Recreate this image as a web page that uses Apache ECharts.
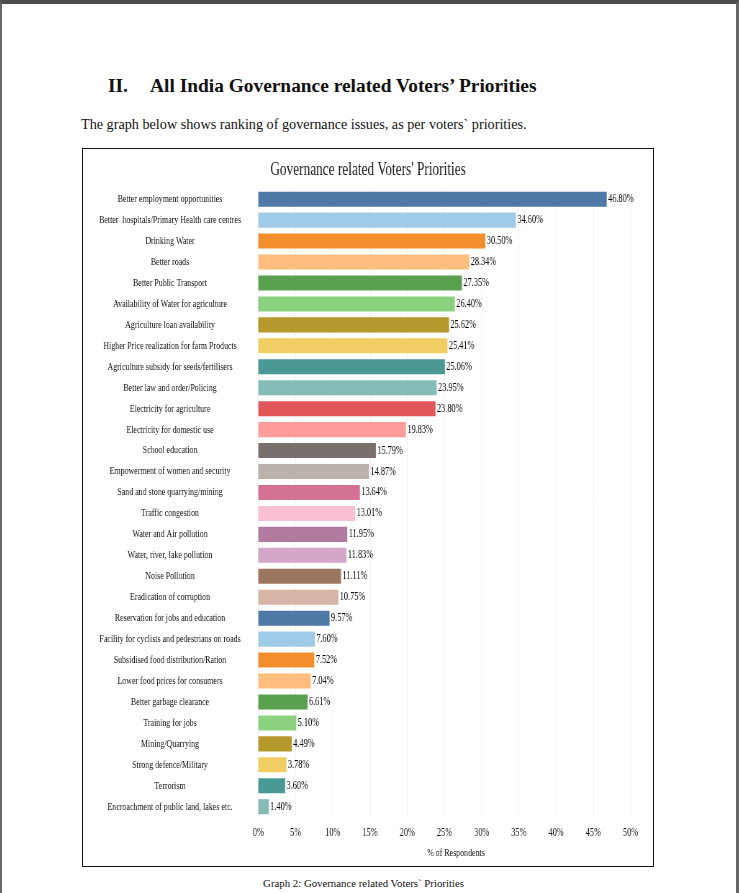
<!DOCTYPE html>
<html>
<head>
<meta charset="utf-8">
<script src="https://cdn.jsdelivr.net/npm/echarts@6.0.0/dist/echarts.min.js"></script>
<style>
  html, body { margin: 0; padding: 0; background: #fff; }
  body { width: 739px; height: 893px; position: relative; overflow: hidden; font-family: "Liberation Serif", "Times New Roman", serif; color: #111; }
  .frame { position: absolute; left: 0; top: 0; width: 739px; height: 893px; box-sizing: border-box;
           border-top: 4px solid #4d4d4d; border-left: 2px solid #666; border-right: 3px solid #666; }
  .txt { position: absolute; white-space: pre; }
  #box { position: absolute; left: 82px; top: 148px; width: 572px; height: 719px; box-sizing: border-box; border: 1px solid #111; }
  #chart { position: absolute; left: 83px; top: 149px; width: 792px; height: 717px; transform: scaleX(0.7197); transform-origin: 0 0; }
</style>
</head>
<body>
<div class="frame"></div>
<div class="txt" style="left:108px; top:76px; font-size:19.4px; line-height:19.4px; font-weight:bold;">II.</div>
<div class="txt" style="left:150px; top:76px; font-size:19.4px; line-height:19.4px; font-weight:bold;">All India Governance related Voters’ Priorities</div>
<div class="txt" style="left:81px; top:117px; font-size:14.2px; line-height:14.2px;">The graph below shows ranking of governance issues, as per voters` priorities.</div>
<div id="box"></div>
<div id="chart"></div>
<div class="txt" style="left:0; width:727px; text-align:center; top:878px; font-size:10.8px; line-height:10.8px;">Graph 2: Governance related Voters` Priorities</div>
<script>
const categories = [
  "Better employment opportunities",
  "Better  hospitals/Primary Health care centres",
  "Drinking Water",
  "Better roads",
  "Better Public Transport",
  "Availability of Water for agriculture",
  "Agriculture loan availability",
  "Higher Price realization for farm Products",
  "Agriculture subsidy for seeds/fertilisers",
  "Better law and order/Policing",
  "Electricity for agriculture",
  "Electricity for domestic use",
  "School education",
  "Empowerment of women and security",
  "Sand and stone quarrying/mining",
  "Traffic congestion",
  "Water and Air pollution",
  "Water, river, lake pollution",
  "Noise Pollution",
  "Eradication of corruption",
  "Reservation for jobs and education",
  "Facility for cyclists and pedestrians on roads",
  "Subsidised food distribution/Ration",
  "Lower food prices for consumers",
  "Better garbage clearance",
  "Training for jobs",
  "Mining/Quarrying",
  "Strong defence/Military",
  "Terrorism",
  "Encroachment of public land, lakes etc."
];
const values = [46.80, 34.60, 30.50, 28.34, 27.35, 26.40, 25.62, 25.41, 25.06, 23.95,
                23.80, 19.83, 15.79, 14.87, 13.64, 13.01, 11.95, 11.83, 11.11, 10.75,
                9.57, 7.60, 7.52, 7.04, 6.61, 5.10, 4.49, 3.78, 3.60, 1.40];
const palette = ["#4E79A7", "#A0CBE8", "#F28E2B", "#FFBE7D", "#59A14F", "#8CD17D", "#B6992D", "#F1CE63",
                 "#499894", "#86BCB6", "#E15759", "#FF9D9A", "#79706E", "#BAB0AC", "#D37295", "#FABFD2",
                 "#B07AA1", "#D4A6C8", "#9D7660", "#D7B5A6"];
const xTicks = { min: 0, max: 50, interval: 5 };
const titleText = "Governance related Voters' Priorities";
const xAxisName = "% of Respondents";

const serif = "'Liberation Serif', 'Times New Roman', serif";
const chart = echarts.init(document.getElementById('chart'), null, { renderer: 'canvas' });
chart.setOption({
  animation: false,
  title: {
    text: titleText, left: 'center', top: 7,
    textStyle: { fontFamily: serif, fontSize: 18.5, fontWeight: 'normal', color: '#1a1a1a' }
  },
  grid: { left: 243.6, right: 31.2, top: 39.7, bottom: 48.8, containLabel: false },
  xAxis: {
    type: 'value', min: xTicks.min, max: xTicks.max, interval: xTicks.interval,
    name: xAxisName, nameLocation: 'middle', nameGap: 30,
    nameTextStyle: { fontFamily: serif, fontSize: 11, color: '#111', padding: [0, 0, 0, 32] },
    axisLine: { show: false }, axisTick: { show: false },
    axisLabel: { formatter: '{value}%', fontFamily: serif, fontSize: 11.5, color: '#111', margin: 10 },
    splitLine: { show: true, lineStyle: { color: '#f0f0f0', width: 1 } }
  },
  yAxis: {
    type: 'category', data: categories, inverse: true,
    axisLine: { show: false }, axisTick: { show: false },
    axisLabel: { fontFamily: serif, fontSize: 11, color: '#111', align: 'center', margin: 122.7, interval: 0 }
  },
  series: [{
    type: 'bar',
    data: values.map((v, i) => ({ value: v, itemStyle: { color: palette[i % palette.length] } })),
    barCategoryGap: '28%',
    label: {
      show: true, position: 'right', distance: 2,
      formatter: p => p.value.toFixed(2) + '%',
      fontFamily: serif, fontSize: 11.5, color: '#000'
    }
  }]
});
</script>
</body>
</html>
